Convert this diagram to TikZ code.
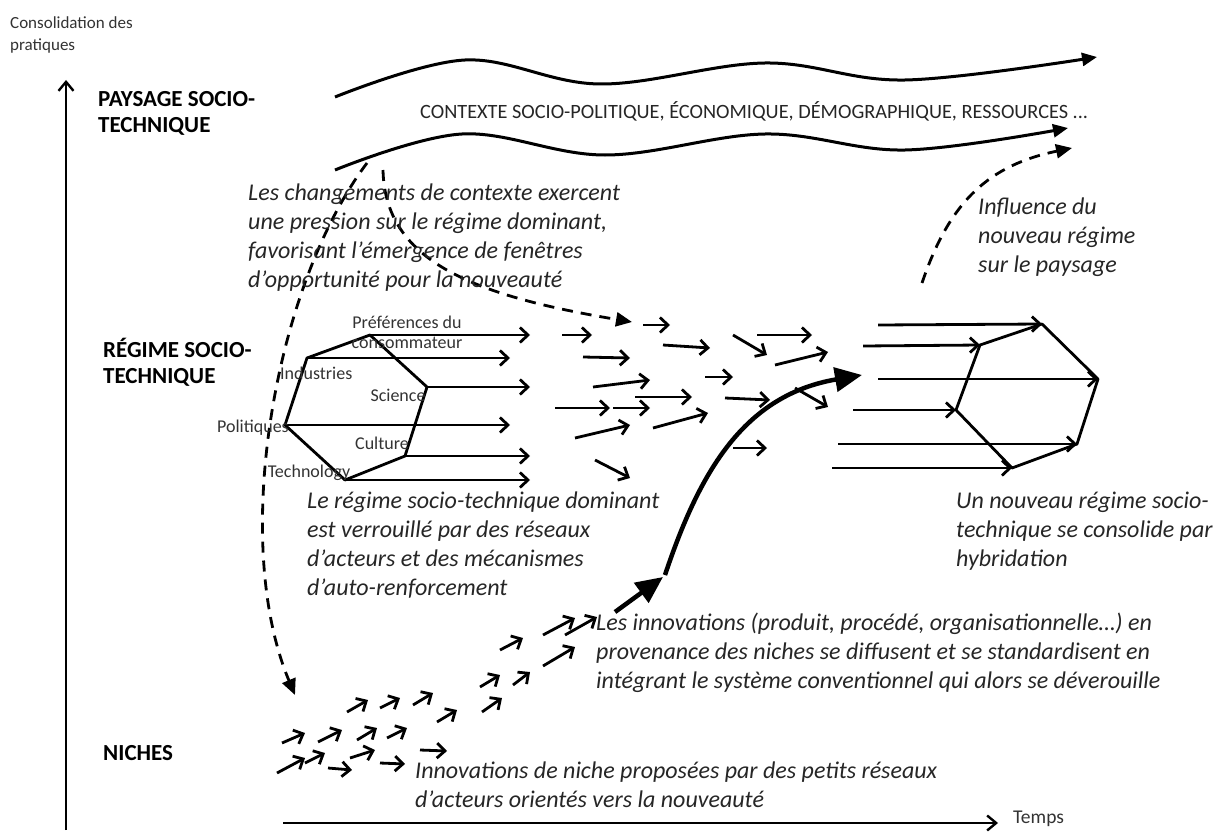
\documentclass[tikz,border=0pt]{standalone}
\usepackage{fontspec}
\setmainfont{Carlito}
\usetikzlibrary{arrows.meta}

\tikzset{
  flow/.style={line width=2.8, -{Straight Barb[length=8,width=15]}},
  press/.style={line width=2.8, dash pattern=on 11 off 8, -{Triangle[length=16,width=14]}},
  thrust/.style={line width=4.5, -{Triangle[length=27,width=24]}},
  axis/.style={line width=2.4, -{Straight Barb[length=9,width=15]}},
  note/.style={font=\fontsize{24}{29}\selectfont\itshape, align=left, anchor=north west, inner sep=0, text=black!85},
  level/.style={font=\fontsize{23}{26}\selectfont\bfseries, align=left, anchor=north west, inner sep=0},
  tag/.style={font=\fontsize{18}{20}\selectfont, inner sep=0, text=black!80}
}

\begin{document}
\begin{tikzpicture}[x=1pt, y=-1pt]

\useasboundingbox (0,0) rectangle (1214,832);
\fill[white] (0,0) rectangle (1214,832);

% Axes
\draw[axis] (66,830) -- (66,80);
\draw[axis] (283,823) -- (998,823);
\path
(10,16) node [anchor=north west, inner sep=0, align=left, font=\fontsize{17}{22}\selectfont, text=black!80] (vaxis) {Consolidation des\\pratiques};
\path
(1013,819) node [anchor=west, inner sep=0, font=\fontsize{19.5}{20}\selectfont, text=black!80] (haxis) {Temps};

% Levels
\path
(98,91) node [level] (paysage) {PAYSAGE SOCIO-\\TECHNIQUE};
\path
(103,338) node [level] (regime) {RÉGIME SOCIO-\\TECHNIQUE};
\path
(103,745) node [level] (niches) {NICHES};

%
% Paysage
%
\draw[line width=3, -{Triangle[length=15,width=13]}] plot[smooth, tension=0.6] coordinates {(335,97) (465,60) (600,84) (765,63) (905,80) (1097,57)};
\draw[line width=3, -{Triangle[length=15,width=13]}] plot[smooth, tension=0.6] coordinates {(335,170) (462,134) (605,155) (765,134) (905,150) (1068,128)};
\path
(420,111) node [anchor=west, inner sep=0, font=\fontsize{20.3}{22}\selectfont, text=black!85] (contexte) {CONTEXTE SOCIO-POLITIQUE, ÉCONOMIQUE, DÉMOGRAPHIQUE, RESSOURCES ...};

% Pressure of the landscape
\draw[press] (367,163) .. controls (275,285) and (230,540) .. (295,695);
\draw[press] (383,170) .. controls (385,260) and (470,295) .. (632,322);
\path
(248,184) node [note] (pression) {Les changements de contexte exercent\\une pression sur le régime dominant,\\favorisant l’émergence de fenêtres\\d’opportunité pour  la nouveauté};

% Feedback of the new regime
\draw[press] (922,283) .. controls (950,200) and (990,165) .. (1072,148);
\path
(978,198) node [note] (influence) {Influence du\\nouveau régime\\sur le paysage};

%
% Dominant regime
%
\coordinate (pref) at (370,335);
\coordinate (sci) at (427,387);
\coordinate (cult) at (405,456);
\coordinate (tech) at (345,480);
\coordinate (pol) at (285,425);
\coordinate (ind) at (307,358);

\draw[line width=2.8, line join=round] (pref) -- (sci) -- (cult) -- (tech) -- (pol) -- (ind) -- cycle;

\draw[flow] (pref) -- ++(160,0);
\draw[flow] (ind) -- ++(203,0);
\draw[flow] (sci) -- ++(103,0);
\draw[flow] (pol) -- ++(225,0);
\draw[flow] (cult) -- ++(125,0);
\draw[flow] (tech) -- ++(185,0);

\path
(407,322) node [tag] (lpref) {Préférences du};
\path
(407,343) node [tag] (lcons) {consommateur};
\path
(280,373) node [tag, anchor=west] (lind) {Industries};
\path
(398,395) node [tag] (lsci) {Science};
\path
(289,428) node [tag, anchor=east] (lpol) {Politiques};
\path
(382,443) node [tag] (lcult) {Culture};
\path
(309,473) node [tag] (ltech) {Technology};

\path
(307,492) node [note] (verrou) {Le régime socio-technique dominant\\est verrouillé par des réseaux\\d’acteurs et des mécanismes\\d’auto-renforcement};

% Regime in motion
\draw[flow] (643,325) -- (670,325);
\draw[flow] (562,335) -- (592,335);
\draw[flow] (663,345) -- (710,348);
\draw[flow] (733,335) -- (767,355);
\draw[flow] (757,335) -- (812,335);
\draw[flow] (583,357) -- (630,358);
\draw[flow] (775,365) -- (828,352);
\draw[flow] (593,387) -- (650,380);
\draw[flow] (705,377) -- (733,377);
\draw[flow] (555,408) -- (610,408);
\draw[flow] (613,408) -- (650,408);
\draw[flow] (635,397) -- (692,397);
\draw[flow] (725,398) -- (770,400);
\draw[flow] (795,388) -- (828,407);
\draw[flow] (575,438) -- (630,425);
\draw[flow] (653,428) -- (708,413);
\draw[flow] (595,460) -- (630,478);
\draw[flow] (733,448) -- (767,448);

%
% New regime
%
\coordinate (ntop) at (1042,324);
\coordinate (nul) at (980,345);
\coordinate (nleft) at (956,410);
\coordinate (nbl) at (1012,468);
\coordinate (nbr) at (1077,444);
\coordinate (nright) at (1098,379);

\draw[line width=2.8, line join=round] (ntop) -- (nright) -- (nbr) -- (nbl) -- (nleft) -- (nul) -- cycle;

\draw[flow] (878,325) -- (ntop);
\draw[flow] (863,346) -- (nul);
\draw[flow] (878,379) -- (nright);
\draw[flow] (853,410) -- (nleft);
\draw[flow] (838,444) -- (nbr);
\draw[flow] (832,468) -- (nbl);

\path
(956,492) node [note] (hybride) {Un nouveau régime socio-\\technique se consolide par\\hybridation};

%
% Niches
%
\draw[thrust] (615,612) -- (663,577);
\draw[thrust] (665,575) .. controls (700,470) and (745,395) .. (862,375);

\draw[flow] (500,650) -- (523,638);
\draw[flow] (543,635) -- (575,618);
\draw[flow] (565,635) -- (597,617);
\draw[flow] (543,666) -- (575,647);
\draw[flow] (480,687) -- (500,675);
\draw[flow] (513,685) -- (530,672);
\draw[flow] (347,712) -- (368,700);
\draw[flow] (380,708) -- (400,698);
\draw[flow] (413,705) -- (433,693);
\draw[flow] (437,722) -- (457,710);
\draw[flow] (482,712) -- (502,698);
\draw[flow] (282,743) -- (305,733);
\draw[flow] (318,742) -- (342,730);
\draw[flow] (357,740) -- (377,728);
\draw[flow] (387,738) -- (407,728);
\draw[flow] (277,773) -- (305,758);
\draw[flow] (305,763) -- (325,753);
\draw[flow] (328,768) -- (352,770);
\draw[flow] (350,758) -- (375,750);
\draw[flow] (380,763) -- (405,764);
\draw[flow] (420,750) -- (447,751);

\path
(596,613) node [note] (diffusion) {Les innovations (produit, procédé, organisationnelle…) en\\provenance des niches se diffusent et se standardisent en\\intégrant le système conventionnel qui alors se déverouille};
\path
(415,762) node [note] (nouveaute) {Innovations de niche proposées par des petits réseaux\\d’acteurs orientés vers la nouveauté};

\end{tikzpicture}
\end{document}
